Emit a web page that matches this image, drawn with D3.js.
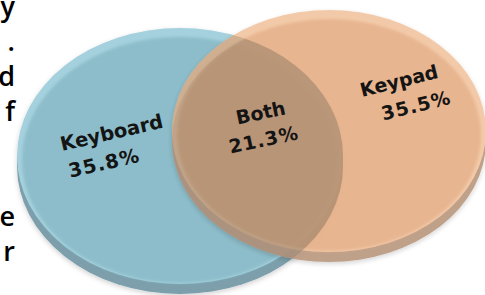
<!DOCTYPE html>
<html>
<head>
<meta charset="utf-8">
<script src="https://cdn.jsdelivr.net/npm/d3@7"></script>
<style>
  html, body { margin: 0; padding: 0; background: #ffffff; }
  svg { display: block; }
</style>
</head>
<body>
<svg id="chart" width="485" height="295"></svg>
<script>
// ---- data ----
const sets = ["Keyboard", "Keypad"];
const onlyValues = [35.8, 35.5];
const overlapLabel = "Both";
const overlapValue = 21.3;
// fragment of the surrounding document text (right edge of a justified paragraph)
const sideText = ["y", ".", "d", "f", "", "", "e", "r"];

// ---- layout ----
const W = 485, H = 295;
const svg = d3.select("#chart");
const x = d3.scalePoint().domain(sets).range([180, 329]);
const cy = d3.scaleOrdinal().domain(sets).range([156, 131]);
const rx = d3.scaleOrdinal().domain(sets).range([163, 157]);
const ry = d3.scaleOrdinal().domain(sets).range([128, 121]);
const thick = 10;
const palette = {
  Keyboard: { rim: "#a4d1dd", face: "#8dbdca", side: "#7b9fab" },
  Keypad:   { rim: "#f3c7a3", face: "#e6b088", side: "#bb9981" }
};
const fmt = v => d3.format(".1f")(v) + "%";

const defs = svg.append("defs");
defs.append("filter").attr("id", "soft").attr("x", "-10%").attr("y", "-10%").attr("width", "120%").attr("height", "120%")
  .append("feGaussianBlur").attr("stdDeviation", 1.6);
const sh = defs.append("filter").attr("id", "shadow").attr("x", "-10%").attr("y", "-10%").attr("width", "120%").attr("height", "130%");
sh.append("feDropShadow").attr("dx", 0).attr("dy", 2).attr("stdDeviation", 2.5).attr("flood-color", "#000").attr("flood-opacity", 0.18);

// clip = Keyboard disk (face + side)
const clip = defs.append("clipPath").attr("id", "clipKB");
clip.append("ellipse").attr("cx", x("Keyboard")).attr("cy", cy("Keyboard")).attr("rx", rx("Keyboard")).attr("ry", ry("Keyboard"));
clip.append("ellipse").attr("cx", x("Keyboard")).attr("cy", cy("Keyboard") + thick).attr("rx", rx("Keyboard")).attr("ry", ry("Keyboard"));

function disk(g, s) {
  const c = palette[s];
  g.append("ellipse").attr("cx", x(s)).attr("cy", cy(s) + thick).attr("rx", rx(s)).attr("ry", ry(s)).attr("fill", c.side);
  g.append("ellipse").attr("cx", x(s)).attr("cy", cy(s)).attr("rx", rx(s)).attr("ry", ry(s)).attr("fill", c.rim);
  g.append("ellipse").attr("cx", x(s)).attr("cy", cy(s) + 4).attr("rx", rx(s) - 5).attr("ry", ry(s) - 5)
    .attr("fill", c.face).attr("filter", "url(#soft)");
}

const gKB = svg.append("g").attr("filter", "url(#shadow)");
disk(gKB, "Keyboard");
const gKP = svg.append("g").attr("filter", "url(#shadow)").attr("opacity", 0.93);
disk(gKP, "Keypad");

// intersection tint
const inter = svg.append("g").attr("clip-path", "url(#clipKB)");
inter.append("ellipse").attr("cx", x("Keypad")).attr("cy", cy("Keypad")).attr("rx", rx("Keypad")).attr("ry", ry("Keypad"))
  .attr("fill", "#6e5f48").attr("opacity", 0.22);
inter.append("ellipse").attr("cx", x("Keypad")).attr("cy", cy("Keypad") + thick).attr("rx", rx("Keypad")).attr("ry", ry("Keypad"))
  .attr("fill", "#5a5a50").attr("opacity", 0.12);

// ---- labels ----
const labelFont = "'DejaVu Sans', Verdana, sans-serif";
const labels = [
  { lines: [sets[0], fmt(onlyValues[0])], ox: -118, oy: -5, rot: -13, dx2: 2, gap: 28, size: 19.5 },
  { lines: [overlapLabel, fmt(overlapValue)], ox: -17, oy: -19, rot: -12, dx2: -13, gap: 27, size: 19 },
  { lines: [sets[1], fmt(onlyValues[1])], ox: 33, oy: -34, rot: -14, dx2: 15, gap: 28, size: 19 }
];
const anchors = [
  [x("Keyboard"), cy("Keyboard")],
  [(x("Keyboard") + x("Keypad")) / 2, (cy("Keyboard") + cy("Keypad")) / 2],
  [x("Keypad"), cy("Keypad")]
];
labels.forEach((l, i) => {
  const g = svg.append("g")
    .attr("transform", `translate(${anchors[i][0] + l.ox},${anchors[i][1] + l.oy}) rotate(${l.rot})`);
  g.append("text").attr("x", 0).attr("y", 0).text(l.lines[0])
    .attr("font-family", labelFont).attr("font-weight", "bold").attr("font-size", l.size).attr("fill", "#141414");
  g.append("text").attr("x", l.dx2).attr("y", l.gap).text(l.lines[1])
    .attr("font-family", labelFont).attr("font-weight", "bold").attr("font-size", l.size).attr("fill", "#141414")
    .attr("letter-spacing", 1);
});

// ---- side document text ----
const lineY = d3.scaleLinear().domain([0, 1]).range([16, 51]);
const lines = sideText.map((t, i) => ({ t, i })).filter(d => d.t !== "");
svg.append("g").selectAll("text").data(lines).join("text")
  .attr("x", 15).attr("y", d => lineY(d.i))
  .attr("text-anchor", "end")
  .attr("font-family", "'Open Sans', 'Liberation Sans', Arial, sans-serif")
  .attr("font-weight", 600)
  .attr("font-size", 27).attr("fill", "#000")
  .text(d => d.t);
</script>
</body>
</html>
